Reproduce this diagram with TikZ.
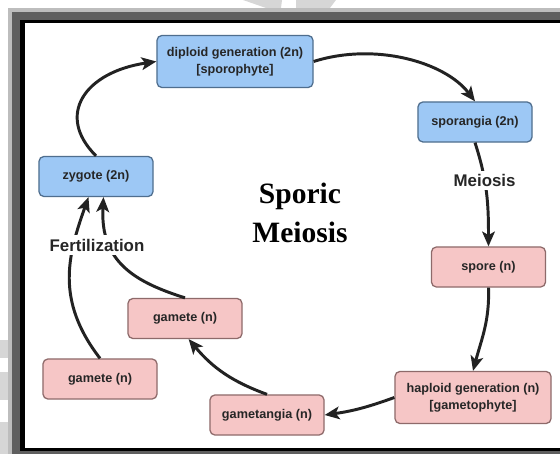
\documentclass[tikz,border=0pt]{standalone}
\usepackage{fontspec}
\setmainfont{Liberation Serif}
\setsansfont{Liberation Sans}
\usepackage{xcolor}
\usetikzlibrary{arrows.meta}

\definecolor{sporofill}{HTML}{9DC8F5}
\definecolor{sporoline}{HTML}{4F6E8E}
\definecolor{gametofill}{HTML}{F6C6C6}
\definecolor{gametoline}{HTML}{8E6A6A}
\definecolor{arrowgray}{HTML}{222222}
\definecolor{lightrim}{HTML}{BDBDBD}
\definecolor{darkrim}{HTML}{5F5F5F}
\definecolor{wmark}{HTML}{D6D6D6}

\tikzset{
  stage/.style={draw, rounded corners=3.5pt, line width=0.9pt,
    minimum width=2.85cm, minimum height=1cm, align=center,
    font=\sffamily\bfseries\fontsize{9}{12}\selectfont, text=black!85},
  sporo/.style={stage, fill=sporofill, draw=sporoline},
  gameto/.style={stage, fill=gametofill, draw=gametoline},
  wide/.style={minimum width=3.9cm, minimum height=1.3cm},
  lifearrow/.style={line width=2.1pt, draw=arrowgray,
    -{Stealth[length=10.5pt,width=9pt,inset=2.5pt]}},
  steplabel/.style={font=\sffamily\bfseries\fontsize{12}{14}\selectfont,
    text=black!85, fill=white, inner sep=2.5pt},
}

\begin{document}
\begin{tikzpicture}[x=0.025cm, y=0.025cm]
\useasboundingbox (0,0) rectangle (560,454);

% Frame
\fill[wmark] (243,454) -- (282,454) -- (281,446) -- (266,446) -- cycle;
\fill[wmark] (296,454) -- (336,454) -- (330,446) -- (296,446) -- cycle;
\fill[wmark] (0,96) rectangle (8,114);
\fill[wmark] (0,54) rectangle (8,82);
\fill[wmark] (0,0) rectangle (8,32);
\fill[lightrim] (8,0) rectangle (560,446);
\fill[darkrim] (12,0) rectangle (560,442);
\fill[black] (20,3) rectangle (560,434);
\fill[white] (25,6) rectangle (560,431);

% Diploid stages
\node[sporo, wide] (dip) at (235,392.5) {diploid generation (2n)\\ {[sporophyte]}};
\node[sporo] (spor) at (475,332) {sporangia (2n)};
\node[sporo] (zyg) at (96,277.5) {zygote (2n)};

% Haploid stages
\node[gameto] (spore) at (488.5,187) {spore (n)};
\node[gameto, wide] (hap) at (473,56.5) {haploid generation (n)\\ {[gametophyte]}};
\node[gameto] (gtang) at (267,39) {gametangia (n)};
\node[gameto] (gamU) at (185,135.5) {gamete (n)};
\node[gameto] (gamL) at (100,75) {gamete (n)};

% Title
\node[font=\bfseries\fontsize{21}{27.5}\selectfont, align=center] (title) at (300,241) {Sporic\\Meiosis};

% Life cycle arrows
\draw[lifearrow] (zyg.north) .. controls (55,339) and (85,382) .. (dip.west);
\draw[lifearrow] (dip.east) .. controls (375,412) and (445,392) .. (spor.north);
\draw[lifearrow] (spor.south) to[out=-72, in=90] node[steplabel, pos=0.36] (mei) {Meiosis} (spore.north);
\draw[lifearrow] (spore.south) to[out=-88, in=75] (hap.north);
\draw[lifearrow] (hap.west) to[out=200, in=8] (gtang.east);
\draw[lifearrow] (gtang.north) to[out=160, in=-50] (gamU.-80);

% Fertilization
\draw[lifearrow] (gamU.north) .. controls (135,172) and (100,192) .. (zyg.-70);
\draw[lifearrow] (gamL.north) .. controls (55,154) and (68,199) .. (zyg.-110);
\node[steplabel] (fert) at (97,209) {Fertilization};

\end{tikzpicture}
\end{document}
